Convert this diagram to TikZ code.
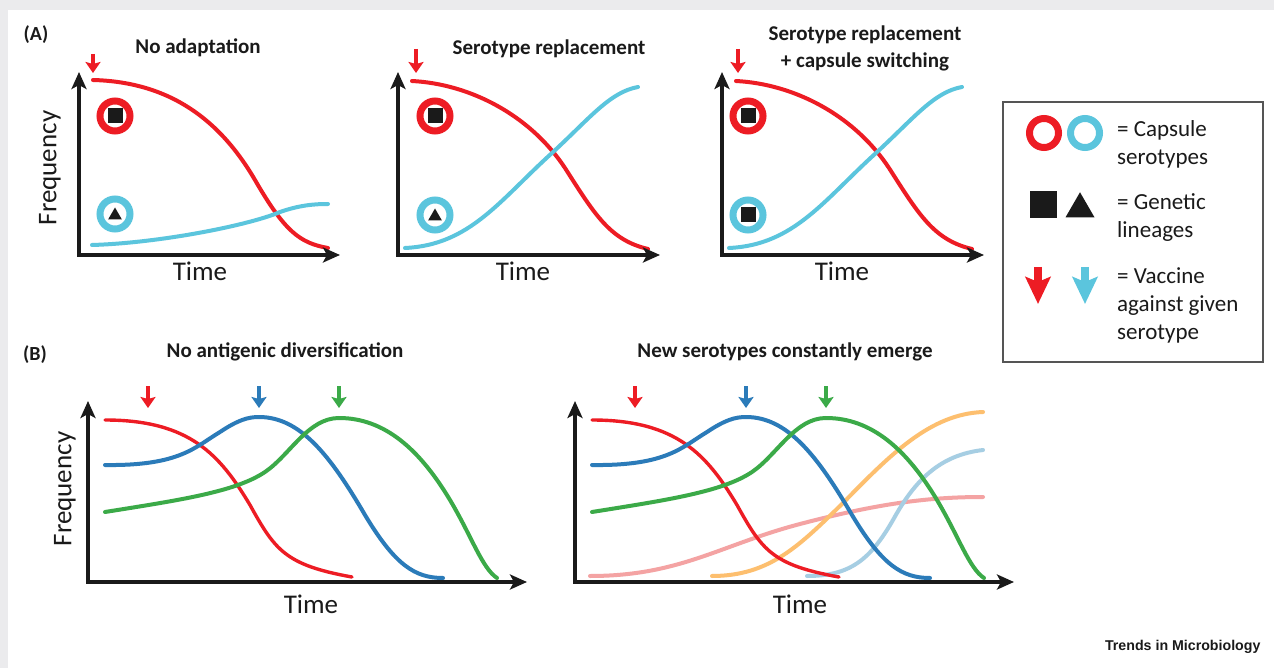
\documentclass[tikz,border=0pt]{standalone}
\usepackage{fontspec}
\setmainfont{Carlito}
\newfontfamily\trendsfont{Liberation Sans}
\usetikzlibrary{arrows.meta,shapes.geometric}

\definecolor{capred}{HTML}{ED1C24}
\definecolor{capcyan}{HTML}{5BC5DD}
\definecolor{serblue}{HTML}{2B7BB9}
\definecolor{sergreen}{HTML}{3BAA48}
\definecolor{serpink}{HTML}{F4A3A3}
\definecolor{serorange}{HTML}{FDBF6F}
\definecolor{serlblue}{HTML}{A6CEE3}
\definecolor{ink}{HTML}{1A1A1A}
\definecolor{framegray}{HTML}{EBEBED}
\definecolor{keygray}{HTML}{555555}

\tikzset{
  axes/.style={line width=4.2pt, draw=ink, line join=miter,
    {Stealth[length=17pt,width=15pt,inset=4pt]}-{Stealth[length=17pt,width=15pt,inset=4pt]}},
  curve/.style={line width=4pt, line cap=round},
  vacc/.style={line width=4.5pt, -{Stealth[length=11pt,width=15pt,inset=2pt]}},
  keyarrow/.style={line width=8pt, -{Stealth[length=27pt,width=25pt,inset=5pt]}},
  ring/.style={circle, draw=#1, line width=7pt, minimum size=30pt, inner sep=0pt},
  lineage/.style={rectangle, fill=ink, minimum size=15pt, inner sep=0pt},
  lineagetri/.style={regular polygon, regular polygon sides=3, fill=ink, minimum size=16pt, inner sep=0pt},
  axlabel/.style={text=ink, font=\fontsize{27}{32}\selectfont},
  paneltitle/.style={text=ink, align=center, font=\bfseries\fontsize{21}{27}\selectfont},
  panelmark/.style={text=ink, font=\bfseries\fontsize{20}{24}\selectfont},
  legendtext/.style={text=ink, anchor=west, align=left, inner sep=0pt, font=\fontsize{23}{28}\selectfont},
}

% red and cyan curves of the replacement panels
\newcommand{\replcurves}{%
  \draw[curve, capred] (412,81) .. controls (470,84) and (530,115) .. (565,168)
    .. controls (595,215) and (610,240) .. (648,249);
  \draw[curve, capcyan] (405,248) .. controls (470,245) and (500,200) .. (552,153)
    .. controls (590,118) and (610,92) .. (638,87);
}

% three serotypes with their vaccines, panel B
\newcommand{\bwaves}{%
  \draw[curve, line width=3.4pt, capred] (105,420) .. controls (190,420) and (220,455) .. (250,505)
    .. controls (275,550) and (285,565) .. (352,577);
  \draw[curve, serblue] (105,465) .. controls (180,466) and (195,447) .. (220,432)
    .. controls (238,420) and (248,417) .. (259,417)
    .. controls (300,417) and (330,455) .. (365,515)
    .. controls (395,565) and (415,578) .. (443,578);
  \draw[curve, sergreen] (105,512) .. controls (180,500) and (235,492) .. (265,472)
    .. controls (290,455) and (308,418) .. (339,418)
    .. controls (385,418) and (420,450) .. (450,500)
    .. controls (472,537) and (482,568) .. (497,578);
  \draw[vacc, capred] (148,386) -- (148,408);
  \draw[vacc, serblue] (259,386) -- (259,408);
  \draw[vacc, sergreen] (339,386) -- (339,408);
  \draw[axes] (88,401) -- (88,582) -- (527,582);
}

\begin{document}
\begin{tikzpicture}[x=1pt, y=-1pt]
  \useasboundingbox (0,0) rectangle (1274,668);
  \fill[framegray] (0,0) rectangle (1274,668);
  \fill[white] (8,10) rectangle (1274,668);

  % (A) no adaptation
  \node[panelmark] (markA) at (36,35) {(A)};
  \node[paneltitle] (titleA1) at (198,48) {No adaptation};
  \draw[vacc, capred] (93,54) -- (93,73);
  \draw[curve, capred] (93,80) .. controls (170,82) and (220,120) .. (255,180)
    .. controls (285,232) and (300,243) .. (328,248);
  \draw[curve, capcyan] (92,245) .. controls (160,243) and (250,225) .. (280,212)
    .. controls (300,205) and (315,204) .. (328,204);
  \draw[axes] (79,72) -- (79,255) -- (340,255);
  \node[ring=capred] (redA1) at (115,116) {};
  \node[lineage] at (redA1) {};
  \node[ring=capcyan] (cyanA1) at (115,214) {};
  \node[lineagetri] at ([yshift=-1.5pt]cyanA1.center) {};
  \node[axlabel, rotate=90] (freqA) at (50,168) {Frequency};
  \node[axlabel] (timeA1) at (200,271) {Time};

  % serotype replacement
  \node[paneltitle] (titleA2) at (549,49) {Serotype replacement};
  \draw[vacc, capred] (416,49) -- (416,73);
  \replcurves
  \draw[axes] (398,72) -- (398,255) -- (660,255);
  \node[ring=capred] (redA2) at (435,116) {};
  \node[lineage] at (redA2) {};
  \node[ring=capcyan] (cyanA2) at (435,215) {};
  \node[lineagetri] at ([yshift=-1.5pt]cyanA2.center) {};
  \node[axlabel] (timeA2) at (523,271) {Time};

  % serotype replacement + capsule switching
  \node[paneltitle] (titleA3) at (865,48) {Serotype replacement\\+ capsule switching};
  \draw[vacc, capred] (738,49) -- (738,73);
  \begin{scope}[xshift=324pt]
    \replcurves
    \draw[axes] (398,72) -- (398,255) -- (660,255);
  \end{scope}
  \node[ring=capred] (redA3) at (748,116) {};
  \node[lineage] at (redA3) {};
  \node[ring=capcyan] (cyanA3) at (748,215) {};
  \node[lineage] at (cyanA3) {};
  \node[axlabel] (timeA3) at (842,271) {Time};

  % key
  \draw[keygray, line width=1.3pt] (1003,102) rectangle (1263,362);
  \node[ring=capred, minimum size=29pt] (keyred) at (1044,133) {};
  \node[ring=capcyan, minimum size=29pt] (keycyan) at (1085,133) {};
  \node[legendtext] (keycaps) at (1117,144) {= Capsule\\serotypes};
  \node[lineage, minimum size=27pt] (keysq) at (1043,205) {};
  \node[lineagetri, minimum size=33.5pt] (keytri) at (1080,209) {};
  \node[legendtext] (keylin) at (1117,218) {= Genetic\\lineages};
  \draw[keyarrow, capred] (1038,267) -- (1038,304);
  \draw[keyarrow, capcyan] (1085,267) -- (1085,304);
  \node[legendtext] (keyvac) at (1117,305) {= Vaccine\\against given\\serotype};

  % (B) no antigenic diversification
  \node[panelmark] (markB) at (35,355) {(B)};
  \node[paneltitle] (titleB1) at (285,352) {No antigenic diversification};
  \bwaves
  \node[axlabel, rotate=90] (freqB) at (65,489) {Frequency};
  \node[axlabel] (timeB1) at (311,604) {Time};

  % new serotypes constantly emerge
  \node[paneltitle] (titleB2) at (785,352) {New serotypes constantly emerge};
  \draw[curve, serpink] (590,576) .. controls (680,576) and (720,545) .. (800,524)
    .. controls (880,503) and (930,497) .. (983,497);
  \draw[curve, serorange] (712,576) .. controls (770,576) and (800,545) .. (843,503)
    .. controls (890,455) and (930,414) .. (983,412);
  \draw[curve, serlblue] (807,576) .. controls (850,576) and (870,560) .. (893,520)
    .. controls (915,480) and (940,455) .. (983,450);
  \begin{scope}[xshift=487pt]
    \bwaves
  \end{scope}
  \node[axlabel] (timeB2) at (800,604) {Time};

  \node[anchor=east, text=ink, font=\trendsfont\bfseries\fontsize{14.2}{17}\selectfont] (journal) at (1264,647) {Trends in Microbiology};
\end{tikzpicture}
\end{document}
